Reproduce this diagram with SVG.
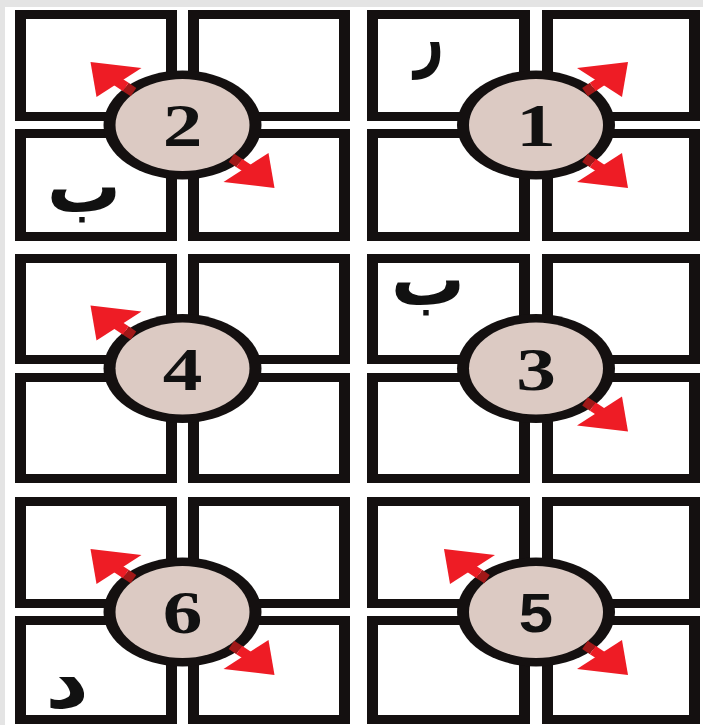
<svg xmlns="http://www.w3.org/2000/svg" xmlns:xlink="http://www.w3.org/1999/xlink" width="703" height="725" viewBox="0 0 703 725">
<style>
.ob{fill:#141010}
.wi{fill:#ffffff}
.num{font-family:"Liberation Serif","Times New Roman",serif;font-weight:bold;font-size:62px;fill:#111;text-anchor:middle}
.num5{font-family:"Liberation Sans",Arial,sans-serif;font-weight:bold;font-size:56px;fill:#111;text-anchor:middle}
.ar{font-family:"DejaVu Sans","Noto Sans",sans-serif;font-weight:bold;font-size:74px;fill:#111;text-anchor:middle}
.head{fill:#ee1c25}
.shaft{stroke:#ee1c25;stroke-width:10;fill:none}
.shaftd{stroke:#a01818;stroke-width:10;fill:none}
</style>
<defs>
<g id="disc">
<ellipse rx="79" ry="54.5" fill="#141010"/>
<ellipse rx="67" ry="46" fill="#dccac3"/>
</g>
<g id="arr">
<line class="shaftd" x1="-49" y1="-32.8" x2="-56.7" y2="-38"/>
<line class="shaft" x1="-56.7" y1="-38" x2="-66" y2="-44.2"/>
<polygon class="head" points="-92,-63 -86,-28 -41,-57"/>
</g>
</defs>
<rect width="703" height="725" fill="#ffffff"/>
<rect x="0" y="0" width="703" height="7" fill="#e4e4e4"/>
<rect x="0" y="0" width="5" height="725" fill="#e4e4e4"/>

<g id="panel-2">
<rect class="ob" x="15" y="10" width="162" height="111"/><rect class="wi" x="26" y="19" width="140" height="93"/>
<rect class="ob" x="188" y="10" width="162" height="111"/><rect class="wi" x="199" y="19" width="140" height="93"/>
<rect class="ob" x="15" y="129" width="162" height="112"/><rect class="wi" x="26" y="138" width="140" height="94"/>
<rect class="ob" x="188" y="129" width="162" height="112"/><rect class="wi" x="199" y="138" width="140" height="94"/>
<use xlink:href="#disc" x="182.5" y="125"/>
<text class="num" transform="translate(182.5,146) scale(1.28,1)">2</text>
<text class="ar" transform="translate(84,212)">ب</text>
</g>

<g id="panel-1">
<rect class="ob" x="367" y="10" width="163" height="111"/><rect class="wi" x="378" y="19" width="141" height="93"/>
<rect class="ob" x="542" y="10" width="158" height="111"/><rect class="wi" x="553" y="19" width="136" height="93"/>
<rect class="ob" x="367" y="129" width="163" height="112"/><rect class="wi" x="378" y="138" width="141" height="94"/>
<rect class="ob" x="542" y="129" width="158" height="112"/><rect class="wi" x="553" y="138" width="136" height="94"/>
<use xlink:href="#disc" x="536" y="125"/>
<text class="num" transform="translate(536,146) scale(1.28,1)">1</text>
<text class="ar" transform="translate(429,62) scale(0.7,1)">ر</text>
</g>

<g id="panel-4">
<rect class="ob" x="15" y="254" width="162" height="110"/><rect class="wi" x="26" y="263" width="140" height="92"/>
<rect class="ob" x="188" y="254" width="162" height="110"/><rect class="wi" x="199" y="263" width="140" height="92"/>
<rect class="ob" x="15" y="373" width="162" height="110"/><rect class="wi" x="26" y="382" width="140" height="92"/>
<rect class="ob" x="188" y="373" width="162" height="110"/><rect class="wi" x="199" y="382" width="140" height="92"/>
<use xlink:href="#disc" x="182.5" y="368.5"/>
<text class="num" transform="translate(182.5,389.5) scale(1.28,1)">4</text>
</g>

<g id="panel-3">
<rect class="ob" x="367" y="254" width="163" height="110"/><rect class="wi" x="378" y="263" width="141" height="92"/>
<rect class="ob" x="542" y="254" width="158" height="110"/><rect class="wi" x="553" y="263" width="136" height="92"/>
<rect class="ob" x="367" y="373" width="163" height="110"/><rect class="wi" x="378" y="382" width="141" height="92"/>
<rect class="ob" x="542" y="373" width="158" height="110"/><rect class="wi" x="553" y="382" width="136" height="92"/>
<use xlink:href="#disc" x="536" y="368.5"/>
<text class="num" transform="translate(536,389.5) scale(1.28,1)">3</text>
<text class="ar" transform="translate(428,305)">ب</text>
</g>

<g id="panel-6">
<rect class="ob" x="15" y="497" width="162" height="111"/><rect class="wi" x="26" y="506" width="140" height="93"/>
<rect class="ob" x="188" y="497" width="162" height="111"/><rect class="wi" x="199" y="506" width="140" height="93"/>
<rect class="ob" x="15" y="616" width="162" height="108"/><rect class="wi" x="26" y="625" width="140" height="90"/>
<rect class="ob" x="188" y="616" width="162" height="108"/><rect class="wi" x="199" y="625" width="140" height="90"/>
<use xlink:href="#disc" x="182.5" y="612"/>
<text class="num" transform="translate(182.5,633) scale(1.28,1)">6</text>
<text class="ar" transform="translate(67,708) scale(1.15,1)">د</text>
</g>

<g id="panel-5">
<rect class="ob" x="367" y="497" width="163" height="111"/><rect class="wi" x="378" y="506" width="141" height="93"/>
<rect class="ob" x="542" y="497" width="158" height="111"/><rect class="wi" x="553" y="506" width="136" height="93"/>
<rect class="ob" x="367" y="616" width="163" height="108"/><rect class="wi" x="378" y="625" width="141" height="90"/>
<rect class="ob" x="542" y="616" width="158" height="108"/><rect class="wi" x="553" y="625" width="136" height="90"/>
<use xlink:href="#disc" x="536" y="612"/>
<text class="num5" transform="translate(536,632) scale(1.1,1)">5</text>
</g>

<g id="connectors">
<use xlink:href="#arr" transform="translate(536,125) scale(-1,1)"/>
<use xlink:href="#arr" transform="translate(536,125) scale(-1,-1)"/>
<use xlink:href="#arr" transform="translate(182.5,125)"/>
<use xlink:href="#arr" transform="translate(182.5,125) scale(-1,-1)"/>
<use xlink:href="#arr" transform="translate(536,368.5) scale(-1,-1)"/>
<use xlink:href="#arr" transform="translate(182.5,368.5)"/>
<use xlink:href="#arr" transform="translate(536,612)"/>
<use xlink:href="#arr" transform="translate(536,612) scale(-1,-1)"/>
<use xlink:href="#arr" transform="translate(182.5,612)"/>
<use xlink:href="#arr" transform="translate(182.5,612) scale(-1,-1)"/>
</g>
</svg>
